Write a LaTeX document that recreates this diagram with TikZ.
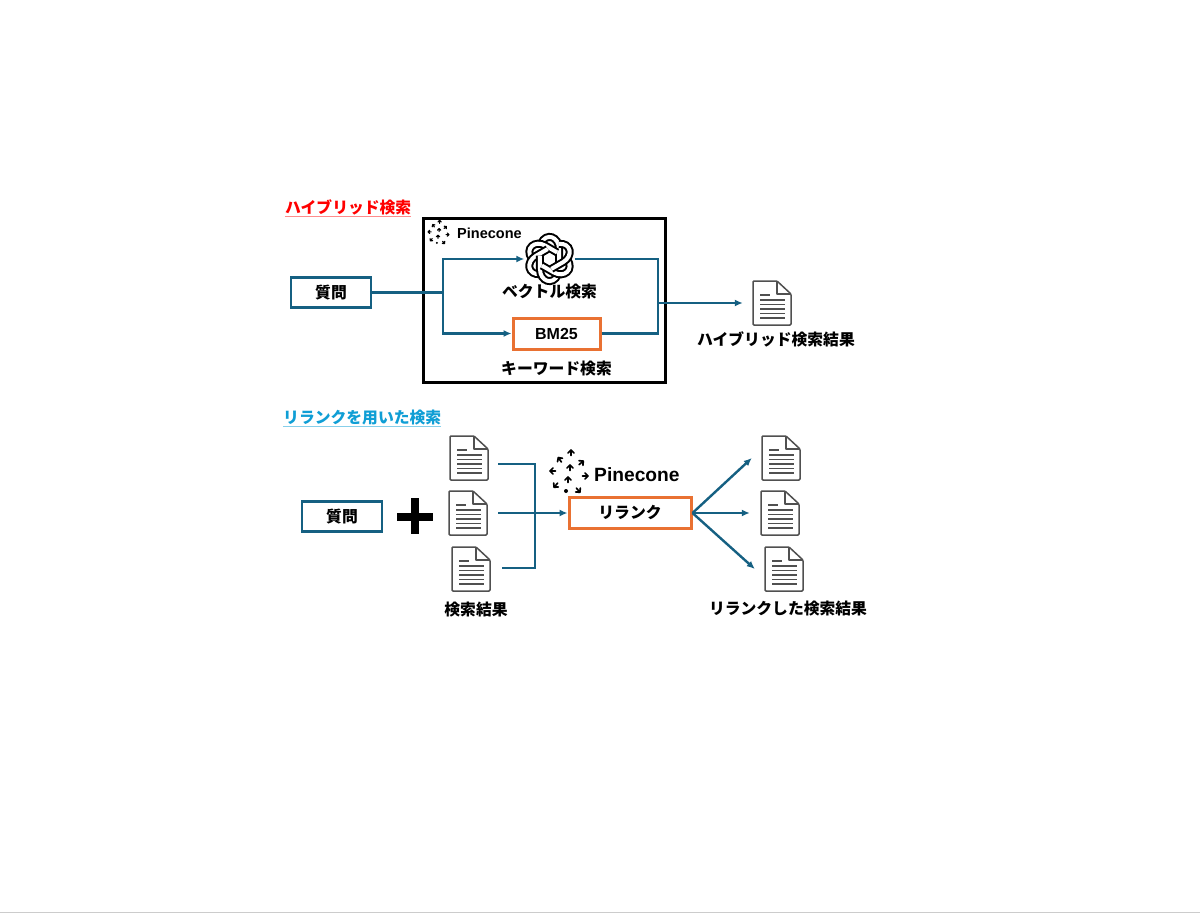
\documentclass[tikz,border=0pt]{standalone}
\usepackage{fontspec}
\setmainfont{Noto Sans CJK JP}
\newfontfamily\latinfont{Liberation Sans}
\usetikzlibrary{positioning,arrows.meta}

\definecolor{flowteal}{HTML}{156082}
\definecolor{boxorange}{HTML}{E97132}
\definecolor{titleblue}{HTML}{0F9ED5}
\definecolor{docgray}{HTML}{505050}

\tikzset{
    pics/docicon/.style={code={
        \draw[docgray, line width=1.5pt, rounded corners=1pt, line join=round]
            (-19,-22) -- (5,-22) -- (19,-9) -- (19,22) -- (-19,22) -- cycle;
        \draw[docgray, line width=1.3pt, line join=round] (5,-22) -- (5,-9) -- (19,-9);
        \draw[docgray, line width=1.3pt] (-12,-8) -- (-2,-8);
        \foreach \liney in {-3,1.5,6,10.5,15} {
            \draw[docgray, line width=1.3pt] (-12,\liney) -- (13,\liney);
        }
    }},
    pics/pineconemark/.style={code={
        \foreach \dx/\dy/\ang in {3/-20/-90, -8/-13/-125, 13/-10/-40, -15/-2/180, 17/3/0, -12/12/130, 10/17/50, 2/-5/-90, 0/7/-90} {
            \draw[shift={(\dx,\dy)}, rotate=-\ang, line cap=round, line join=round]
                (-2.5,0) -- (3,0) (0,-3) -- (3,0) -- (0,3);
        }
        \fill (-2,18) circle (2);
    }},
    pics/knotmark/.style={code={
        \foreach \ang in {0,60,...,300} {
            \draw[rotate=\ang, double=white, double distance=4pt, line width=2pt]
                (8.5,3) -- (8.5,-9) .. controls (8.5,-20) and (-3,-24) .. (-7.5,-14);
        }
    }}
}

\begin{document}
\begin{tikzpicture}[
        x=1pt,
        y=-1pt,
        jptext/.style={
            inner sep=0pt,
            text height=13pt,
            text depth=2pt,
            font=\fontsize{15.8}{17}\selectfont\bfseries
        },
        qbox/.style={
            jptext,
            rectangle,
            draw=flowteal,
            line width=2.8pt,
            minimum width=80pt,
            minimum height=30pt
        },
        rankbox/.style={
            jptext,
            rectangle,
            draw=boxorange,
            line width=3pt,
            minimum height=31pt
        },
        docbox/.style={
            rectangle,
            minimum width=38pt,
            minimum height=44pt
        },
        conn/.style={flowteal, line width=2.4pt},
        arr/.style={conn, -{Latex[length=8pt,width=7pt]}}
    ]
    \useasboundingbox (0,0) rectangle (1200,913);
    \fill[white] (0,0) rectangle (1200,913);
    \draw[black!20, line width=1pt] (0,912) -- (1200,912);

    % upper half
    \node[jptext, text=red, anchor=west]        (title1)  at (285,208) {ハイブリッド検索};
    \draw[red!45, line width=1.5pt] ([yshift=-1pt]title1.south west) -- ([yshift=-1pt]title1.south east);

    \node[rectangle, draw, line width=3pt, minimum width=242pt, minimum height=164pt] (frame) at (544.5,300.5) {};
    \pic[line width=1.1pt, scale=.55] at (438,233) {pineconemark};
    \node[anchor=west, inner sep=0pt, font=\latinfont\bfseries\fontsize{14.5}{16}\selectfont] (pinelabel1) at (457,233) {Pinecone};

    \node[qbox]                                 (q1)      at (331,292.5) {質問};
    \node[circle, minimum size=50pt, inner sep=0pt] (vec) at (549.5,259) {};
    \pic[scale=1.12] at (vec) {knotmark};
    \node[jptext]                               (veclabel) [below=0pt of vec] {ベクトル検索};
    \node[rankbox, minimum width=87pt, font=\latinfont\bfseries\fontsize{16}{18}\selectfont] (bm25) at (556.5,333.5) {BM25};
    \node[jptext]                               (kwlabel) [below=11pt of bm25] {キーワード検索};

    \coordinate (hsplit) at (443,292.5);
    \coordinate (hmerge) at (658,303);
    \draw[conn] (q1) -- (hsplit);
    \draw[arr]  (hsplit) |- (vec.west);
    \draw[arr]  (hsplit) |- (bm25.west);
    \draw[conn] (vec.east) -| (hmerge);
    \draw[conn] (bm25.east) -| (hmerge);

    \node[docbox] (hdoc) at (772,303) {};
    \pic at (hdoc) {docicon};
    \draw[arr] (hmerge) -- ([xshift=-10pt]hdoc.west);
    \node[jptext] (hlabel) [below=7pt of hdoc, xshift=4pt] {ハイブリッド検索結果};

    % lower half
    \node[jptext, text=titleblue, anchor=west]  (title2)  at (283,418) {リランクを用いた検索};
    \draw[titleblue!50, line width=1.5pt] ([yshift=-1pt]title2.south west) -- ([yshift=-1pt]title2.south east);

    \node[qbox]                                 (q2)      at (342,516.5) {質問};
    \node[inner sep=0pt, minimum size=36pt] (plus) at (415,516.5) {};
    \fill (plus.west) ++(0,-4) rectangle ++(36,8);
    \fill (plus.north) ++(-4,0) rectangle ++(8,36);

    \foreach \docname/\docx/\docy in {rdoc1/469/458, rdoc2/468/513, rdoc3/471/569, odoc1/781/458, odoc2/780/513, odoc3/784/569} {
        \node[docbox] (\docname) at (\docx,\docy) {};
        \pic at (\docname) {docicon};
    }
    \node[jptext] (rlabel) [below=11pt of rdoc3, xshift=5pt] {検索結果};

    \pic[line width=1.7pt] at (568,473) {pineconemark};
    \node[anchor=west, inner sep=0pt, font=\latinfont\bfseries\fontsize{19.2}{21}\selectfont] (pinelabel2) at (594,475) {Pinecone};
    \node[rankbox, minimum width=122pt]         (rerank)  at (630,513) {リランク};

    \coordinate (rmerge) at (535,513);
    \draw[conn] ([xshift=10pt,yshift=-6pt]rdoc1.east) -| (rmerge);
    \draw[conn] ([xshift=12pt,yshift=1pt]rdoc3.east) -| (rmerge);
    \draw[arr]  ([xshift=11pt]rdoc2.east) -- (rerank.west);

    \draw[arr]  (rerank.east) -- ([xshift=-10pt]odoc1.west);
    \draw[arr]  (rerank.east) -- ([xshift=-11pt]odoc2.west);
    \draw[arr]  (rerank.east) -- ([xshift=-10pt]odoc3.west);
    \node[jptext] (olabel) [below=10pt of odoc3, xshift=4pt] {リランクした検索結果};
\end{tikzpicture}
\end{document}
